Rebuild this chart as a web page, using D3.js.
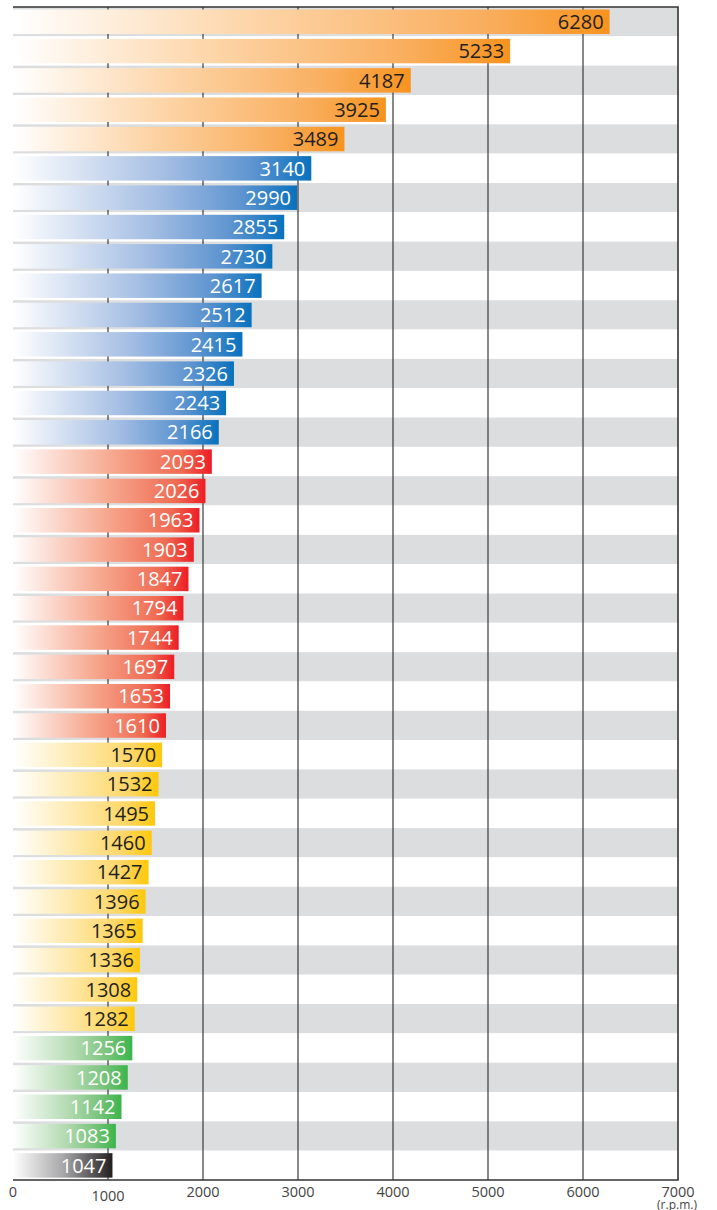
<!DOCTYPE html>
<html>
<head>
<meta charset="utf-8">
<script src="https://cdn.jsdelivr.net/npm/d3@7"></script>
<style>
  body { margin: 0; background: #fff; }
  svg { display: block; }
</style>
</head>
<body>
<div class="viz"></div>
<script>
// values, top to bottom
const values = [6280, 5233, 4187, 3925, 3489,
  3140, 2990, 2855, 2730, 2617, 2512, 2415, 2326, 2243, 2166,
  2093, 2026, 1963, 1903, 1847, 1794, 1744, 1697, 1653, 1610,
  1570, 1532, 1495, 1460, 1427, 1396, 1365, 1336, 1308, 1282,
  1256, 1208, 1142, 1083,
  1047]
const groups = ['orange', 'orange', 'orange', 'orange', 'orange',
  'blue', 'blue', 'blue', 'blue', 'blue', 'blue', 'blue', 'blue', 'blue', 'blue',
  'red', 'red', 'red', 'red', 'red', 'red', 'red', 'red', 'red', 'red',
  'yellow', 'yellow', 'yellow', 'yellow', 'yellow', 'yellow', 'yellow', 'yellow', 'yellow', 'yellow',
  'green', 'green', 'green', 'green',
  'black']
const ticks = [0, 1000, 2000, 3000, 4000, 5000, 6000, 7000]
const unitLabel = '(r.p.m.)'

// gradient stops per colour group: [offset, colour]
const groupStops = {
  orange: [[0, '#fff'], [0.4, '#fdd5a8'], [0.8, '#f9ad5c'], [1, '#f7931e']],
  blue: [[0, '#fff'], [0.5, '#a6bfe4'], [0.8, '#5f95d0'], [1, '#0871bd']],
  red: [[0, '#fff'], [0.5, '#f6a88f'], [0.85, '#ef6b52'], [1, '#ed1c24']],
  yellow: [[0, '#fff'], [0.5, '#fee6a0'], [0.8, '#fdd665'], [1, '#ffc80a']],
  green: [[0, '#fff'], [0.5, '#b5dbb3'], [0.8, '#78c37b'], [1, '#39b54a']],
  black: [[0, '#fff'], [0.5, '#a8a8aa'], [1, '#231f20']]
}
const darkText = { orange: true, yellow: true }

const width = 717
const height = 1210
const plotLeft = 13
const plotRight = 678
const plotTop = 7
const plotBottom = 1180

const svg = d3.select('.viz')
  .append('svg')
  .attr('width', width)
  .attr('height', height)

const x = d3.scaleLinear().domain([0, 7000]).range([plotLeft, plotRight])
const y = d3.scaleBand().domain(d3.range(values.length)).range([plotTop, plotBottom])
const rowH = y.bandwidth()
const barH = rowH * 0.835
const barOff = rowH * 0.085

// one gradient per group, stretched over each bar's own box
const defs = svg.append('defs')
Object.keys(groupStops).forEach(k => {
  defs.append('linearGradient')
    .attr('id', 'grad-' + k)
    .attr('x1', 0).attr('x2', 1).attr('y1', 0).attr('y2', 0)
    .selectAll('stop')
    .data(groupStops[k])
    .enter()
    .append('stop')
    .attr('offset', d => d[0])
    .attr('stop-color', d => d[1])
})

// stripes
svg.append('g')
  .selectAll('rect')
  .data(values)
  .enter()
  .append('rect')
  .attr('x', plotLeft)
  .attr('y', (d, i) => y(i))
  .attr('width', plotRight - plotLeft)
  .attr('height', rowH)
  .attr('fill', (d, i) => i % 2 === 0 ? '#dcdddf' : '#fff')

// grid lines
svg.append('g')
  .selectAll('line')
  .data(ticks.slice(1, -1))
  .enter()
  .append('line')
  .attr('x1', d => x(d)).attr('x2', d => x(d))
  .attr('y1', plotTop).attr('y2', plotBottom)
  .attr('stroke', '#3a3a3a')
  .attr('stroke-width', 1.2)

// frame: top, right, bottom
svg.append('path')
  .attr('d', `M${plotLeft},${plotTop}H${plotRight}V${plotBottom}H${plotLeft}`)
  .attr('fill', 'none')
  .attr('stroke', '#333')
  .attr('stroke-width', 1.6)

// bars
const bars = svg.append('g')
  .selectAll('g')
  .data(values)
  .enter()
  .append('g')

bars.append('rect')
  .attr('x', x(0))
  .attr('y', (d, i) => y(i) + barOff)
  .attr('width', d => x(d) - x(0))
  .attr('height', barH)
  .attr('fill', (d, i) => `url(#grad-${groups[i]})`)

bars.append('text')
  .text(d => d)
  .attr('x', d => x(d) - 6)
  .attr('y', (d, i) => y(i) + barOff + barH / 2 + 7.2)
  .attr('text-anchor', 'end')
  .attr('font-family', '"Open Sans", sans-serif')
  .attr('font-size', 20)
  .attr('font-weight', 500)
  .attr('fill', (d, i) => darkText[groups[i]] ? '#231f20' : '#fff')

// tick labels
svg.append('g')
  .selectAll('text')
  .data(ticks)
  .enter()
  .append('text')
  .text(d => d)
  .attr('x', d => x(d))
  .attr('y', d => d === 1000 ? 1201 : 1197)
  .attr('text-anchor', 'middle')
  .attr('font-family', '"Open Sans", sans-serif')
  .attr('font-size', 14.5)
  .attr('fill', '#444')

svg.append('text')
  .text(unitLabel)
  .attr('x', x(7000) - 1)
  .attr('y', 1209)
  .attr('text-anchor', 'middle')
  .attr('font-family', '"Open Sans", sans-serif')
  .attr('font-size', 12)
  .attr('fill', '#444')
</script>
</body>
</html>
